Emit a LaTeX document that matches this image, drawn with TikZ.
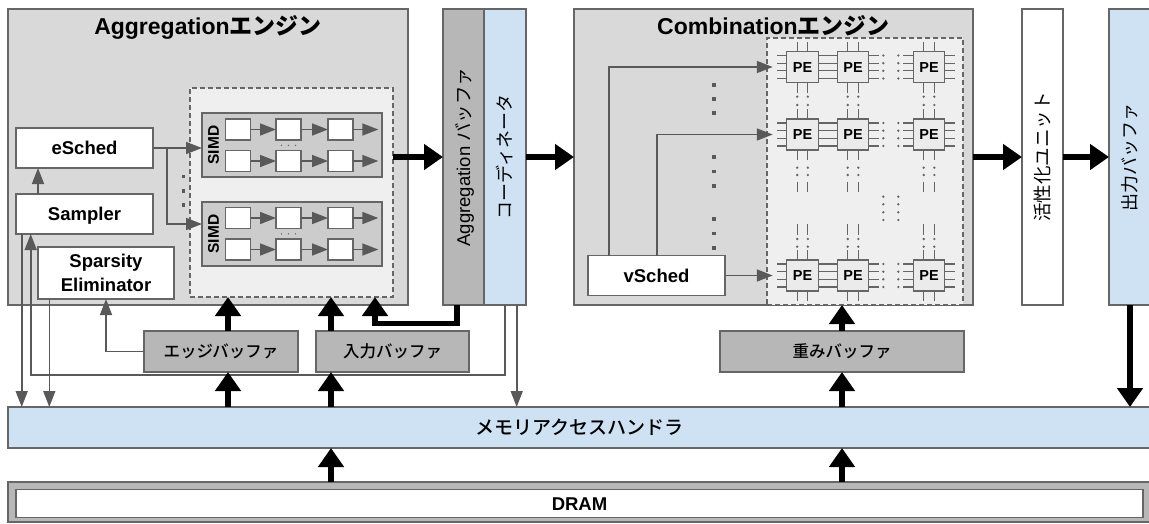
\documentclass[tikz,border=0pt]{standalone}
\usepackage{fontspec}
\setmainfont{Liberation Sans}
\newfontfamily\jp{Noto Sans CJK JP}
\newfontfamily\jpmed{Noto Sans CJK JP}[UprightFont=* Medium]
\usetikzlibrary{arrows.meta,calc}
\definecolor{lc}{HTML}{666666}
\definecolor{ac}{HTML}{595959}
\definecolor{engfill}{HTML}{D9D9D9}
\definecolor{dashfill}{HTML}{EFEFEF}
\definecolor{simdfill}{HTML}{CCCCCC}
\definecolor{bufgray}{HTML}{B7B7B7}
\definecolor{lblue}{HTML}{CFE2F3}
\definecolor{pefill}{HTML}{EBEBEB}
\newcommand\fsz[1]{\fontsize{#1}{#1}\selectfont}
\begin{document}
\begin{tikzpicture}[x=1pt,y=-1pt,
  bx/.style={draw=lc, line width=1.3pt, inner sep=0pt, outer sep=0pt, anchor=north west},
  dsh/.style={dash pattern=on 5pt off 3pt},
  lat/.style={font=\bfseries\fsz{18.5}, text height=13.2pt, text depth=0pt},
  jpl/.style={font=\jpmed\fsz{16.5}, text height=12.4pt, text depth=0pt},
  jpm/.style={font=\jpmed\fsz{19}, text height=14.2pt, text depth=0pt},
  vlab/.style={rotate=90, inner sep=0pt, font=\fsz{18.5}, text height=13.2pt, text depth=0pt},
  ga/.style={draw=ac, line width=1.6pt, -{Triangle[length=16pt,width=12pt]}},
  gl/.style={draw=ac, line width=1.6pt},
  ta/.style={draw=black, line width=5.8pt, -{Triangle[length=19pt,width=25pt]}},
  pinl/.style={draw=lc, line width=1.3pt},
  dotc/.style={fill=lc}
]
\useasboundingbox (0,0) rectangle (1149,523);

% ---------------- Aggregation engine ----------------
\node[bx, fill=engfill, minimum width=400pt, minimum height=296pt] (aggE) at (8,9) {};
\node[anchor=base, font=\bfseries\fsz{23}, inner sep=0pt] (aggT) at (208,34.3) {Aggregation{\jp エンジン}};
\node[bx, fill=dashfill, dsh, minimum width=203pt, minimum height=209pt] (aggD) at (190,88) {};

\node[bx, fill=simdfill, minimum width=180pt, minimum height=64pt] (simd1) at (202,113) {};
\node[bx, fill=simdfill, minimum width=180pt, minimum height=64pt] (simd2) at (202,202) {};
\node[rotate=90, inner sep=0pt, font=\bfseries\fsz{15.5}, text height=11.1pt, text depth=0pt] (simdL1) at (213.3,145) {SIMD};
\node[rotate=90, inner sep=0pt, font=\bfseries\fsz{15.5}, text height=11.1pt, text depth=0pt] (simdL2) at (213.3,234) {SIMD};

\foreach \b/\yb in {1/119,2/207.5} {
  \foreach \r/\dy in {1/0,2/31.5} {
    \foreach \c/\xc in {1/225.5,2/276,3/328} {
      \node[bx, fill=white, minimum width=25pt, minimum height=21pt] (q\b\r\c) at (\xc,{\yb+\dy}) {};
    }
    \coordinate (qe\b\r) at (378.3,{\yb+\dy+10.5});
    \draw[ga] (q\b\r1.east) -- (q\b\r2.west);
    \draw[ga] (q\b\r2.east) -- (q\b\r3.west);
    \draw[ga] (q\b\r3.east) -- (qe\b\r);
  }
}
\foreach \yy in {145.3,233.8} {
  \foreach \xx in {281.5,288.5,295.5} {
    \fill[dotc] (\xx,\yy) circle[radius=0.8pt];
  }
}
\foreach \yy in {176.7,191,205} {
  \fill[ac] ({183.3-1.6},{\yy-1.6}) rectangle ++(3.2,3.2);
}

\node[bx, fill=white, lat, minimum width=137pt, minimum height=40pt] (esched) at (16,128) {eSched};
\node[bx, fill=white, lat, minimum width=137pt, minimum height=40pt] (sampler) at (16,194) {Sampler};
\node[bx, fill=white, align=center, font=\bfseries\fontsize{18.5}{23.4}\selectfont, minimum width=136pt, minimum height=52pt] (spars) at (38,247) {Sparsity\\Eliminator};

% ---------------- Aggregation buffer / coordinator ----------------
\node[bx, fill=bufgray, minimum width=41pt, minimum height=296pt] (aggB) at (443,9) {};
\node[bx, fill=lblue, minimum width=42pt, minimum height=296pt] (coord) at (484,9) {};
\node[vlab] (aggBL) at (aggB.center) {Aggregation {\jp バッファ}};
\node[vlab, font=\jp\fsz{18}] (coordL) at (coord.center) {コーディネータ};

% ---------------- Combination engine ----------------
\node[bx, fill=engfill, minimum width=399pt, minimum height=296pt] (combE) at (574,9) {};
\node[anchor=base, font=\bfseries\fsz{23}, inner sep=0pt] (combT) at (773.5,34.3) {Combination{\jp エンジン}};
\node[bx, fill=dashfill, dsh, minimum width=196pt, minimum height=267pt] (combD) at (767,38) {};
\node[bx, fill=white, lat, minimum width=137pt, minimum height=40pt] (vsched) at (588,255.5) {vSched};

\foreach \yy in {85,99,113,157,171.5,186,219,233.5,248} {
  \fill[ac] ({714-1.6},{\yy-1.6}) rectangle ++(3.2,3.2);
}

% PE pins
\foreach \x in {802.5,853,929} {
  \foreach \y in {67,134.5,275.5} {
    \foreach \o in {-11.5,-3.8,3.8,11.5} {
      \draw[pinl] ({\x-15.75},{\y+\o}) -- ++(-10,0);
      \draw[pinl] ({\x+15.75},{\y+\o}) -- ++(10,0);
    }
    \foreach \o in {-5.3,5.3} {
      \draw[pinl] ({\x+\o},{\y-15.5}) -- ++(0,-10);
      \draw[pinl] ({\x+\o},{\y+15.5}) -- ++(0,10);
    }
  }
  \foreach \o in {-5.3,5.3} {
    \foreach \yy in {96.7,105,167.7,175,239,246.7} {
      \fill[dotc] ({\x+\o},\yy) circle[radius=1.3pt];
    }
    \draw[pinl] ({\x+\o},181.7) -- ({\x+\o},191.7);
    \draw[pinl] ({\x+\o},224.3) -- ({\x+\o},235);
  }
}
\foreach \y in {67,134.5,275.5} {
  \foreach \o in {-11.5,-3.8,3.8,11.5} {
    \fill[dotc] (883.3,{\y+\o}) circle[radius=1.3pt];
    \fill[dotc] (898.3,{\y+\o}) circle[radius=1.3pt];
  }
}
\foreach \yy in {196.7,204.3,212.3,220} {
  \fill[dotc] (883.3,\yy) circle[radius=1.3pt];
  \fill[dotc] (898.3,\yy) circle[radius=1.3pt];
}
\foreach \c/\x in {1/802.5,2/853,3/929} {
  \foreach \r/\y in {1/67,2/134.5,3/275.5} {
    \node[bx, anchor=center, fill=pefill, minimum width=31.5pt, minimum height=31pt, font=\bfseries\fsz{14.5}, text height=10.4pt, text depth=0pt] (pe\r\c) at (\x,\y) {PE};
  }
}

% ---------------- Activation / output ----------------
\node[bx, fill=white, minimum width=41pt, minimum height=296pt] (act) at (1022,9) {};
\node[vlab, font=\jp\fsz{18.5}] (actL) at (act.center) {活性化ユニット};
\node[bx, fill=lblue, minimum width=42pt, minimum height=296pt] (outB) at (1109,9) {};
\node[vlab, font=\jp\fsz{18}] (outL) at (outB.center) {出力バッファ};

% ---------------- Buffers, memory, DRAM ----------------
\node[bx, fill=bufgray, jpl, minimum width=154pt, minimum height=41pt] (edge) at (144,331) {エッジバッファ};
\node[bx, fill=bufgray, jpl, minimum width=153pt, minimum height=41pt] (inB) at (316,331) {入力バッファ};
\node[bx, fill=bufgray, jpl, minimum width=244pt, minimum height=41pt] (wB) at (720,331) {重みバッファ};
\node[bx, fill=lblue, jpm, minimum width=1143pt, minimum height=41pt] (mem) at (8,407) {メモリアクセスハンドラ};
\node[bx, fill=bufgray, minimum width=1143pt, minimum height=40pt] (dramO) at (8,482) {};
\node[bx, fill=white, lat, minimum width=1127pt, minimum height=28pt] (dramI) at (16,489.5) {DRAM};

% ---------------- gray connectors ----------------
\coordinate (br) at (167,148);
\draw[gl] (esched.east) -- (br);
\draw[ga] (br) -- (simd1.west |- br);
\draw[ga] (br) |- ([yshift=10pt]simd2.west);
\draw[ga] ([xshift=22pt]sampler.north west) -- ([xshift=22pt]esched.south west);

\coordinate (s1) at ([xshift=5.7pt]sampler.south west);
\draw[ga] (s1) -- (s1 |- mem.north);
\coordinate (s2) at ([xshift=14.7pt]sampler.south west);
\coordinate (lp) at (0,375);
\coordinate (c1) at ([xshift=21pt]coord.south west);
\draw[ga] (c1) |- (s2 |- lp) -- (s2);
\coordinate (c2) at ([xshift=32.7pt]coord.south west);
\draw[ga] (c2) -- (c2 |- mem.north);
\coordinate (sp) at ([xshift=11.3pt]spars.south west);
\draw[ga] (sp) -- (sp |- mem.north);
\coordinate (spx) at ([xshift=68pt]spars.south west);
\draw[ga] (edge.west) -| (spx);

\coordinate (a1) at ([xshift=-14pt]pe11.west);
\coordinate (a2) at ([xshift=-14pt]pe21.west);
\coordinate (a3) at ([xshift=-14pt]pe31.west);
\draw[ga] ([xshift=21pt]vsched.north west) |- (a1);
\draw[ga] ([xshift=69pt]vsched.north west) |- (a2);
\draw[ga] (vsched.east) -- (a3);

% ---------------- thick connectors ----------------
\draw[ta] (aggD.east |- aggE.east) -- (aggB.west);
\draw[ta] (coord.east) -- (combE.west);
\draw[ta] (combE.east) -- (act.west);
\draw[ta] (act.east) -- (outB.west);
\coordinate (ob) at ([xshift=21pt]outB.south west);
\draw[ta] (ob) -- (ob |- mem.north);

\coordinate (eT) at ([xshift=84pt]edge.north west);
\coordinate (eB) at ([xshift=84pt]edge.south west);
\draw[ta] (eT) -- (eT |- aggD.south);
\draw[ta] (eB |- mem.north) -- (eB);
\coordinate (iT) at ([xshift=15pt]inB.north west);
\coordinate (iB) at ([xshift=15pt]inB.south west);
\draw[ta] (iT) -- (iT |- aggD.south);
\draw[ta] (iB |- mem.north) -- (iB);
\draw[ta] (iB |- dramO.north) -- (iB |- mem.south);

\coordinate (ab) at ([xshift=14.3pt]aggB.south west);
\coordinate (yk) at (0,323.5);
\coordinate (adT) at ([xshift=-18pt]aggD.south east);
\draw[ta] (ab) |- (adT |- yk) -- (adT);

\draw[ta] (wB.north) -- (wB.north |- combD.south);
\draw[ta] (wB.south |- mem.north) -- (wB.south);
\draw[ta] (wB.south |- dramO.north) -- (wB.south |- mem.south);
\end{tikzpicture}
\end{document}
